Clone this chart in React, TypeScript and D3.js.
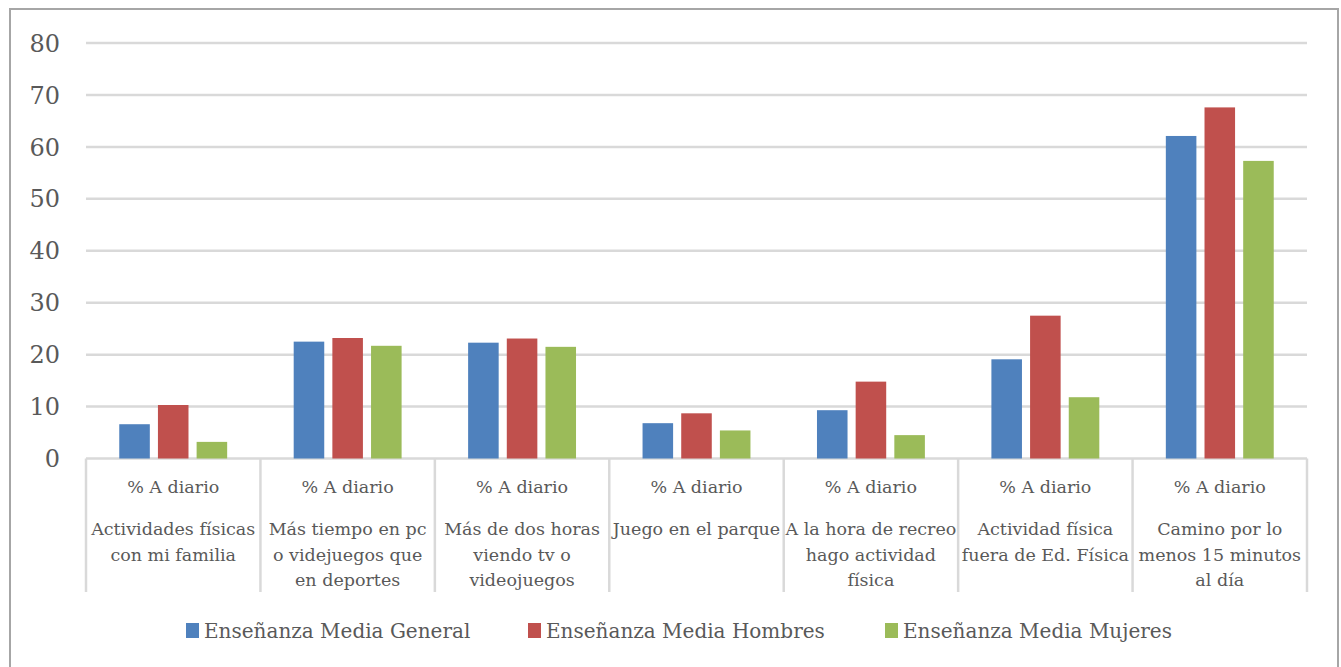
import { useEffect, useRef } from "react";
import * as d3 from "d3";

// Categorías (líneas de etiqueta del eje X)
const categories: string[][] = [
  ["Actividades físicas", "con mi familia"],
  ["Más tiempo en pc", "o videjuegos que", "en deportes"],
  ["Más de dos horas", "viendo tv o", "videojuegos"],
  ["Juego en el parque"],
  ["A la hora de recreo", "hago actividad", "física"],
  ["Actividad física", "fuera de Ed. Física"],
  ["Camino por lo", "menos 15 minutos", "al día"],
];
const categoryHeader = "% A diario";

const seriesNames = [
  "Enseñanza Media General",
  "Enseñanza Media Hombres",
  "Enseñanza Media Mujeres",
];
const seriesColors = ["#4f81bd", "#c0504d", "#9bbb59"];

const generalValues = [6.6, 22.5, 22.3, 6.8, 9.3, 19.1, 62.1];
const hombresValues = [10.3, 23.2, 23.1, 8.7, 14.8, 27.5, 67.6];
const mujeresValues = [3.2, 21.7, 21.5, 5.4, 4.5, 11.8, 57.3];

const yTicks = [0, 10, 20, 30, 40, 50, 60, 70, 80];

const W = 1341;
const H = 667;
const FONT = "'DejaVu Serif', serif";
const TEXT = "#595959";
const GRID = "#d9d9d9";

export default function App() {
  const svgRef = useRef<SVGSVGElement>(null);

  useEffect(() => {
    document.body.style.margin = "0";
    if (!svgRef.current) return;
    const svg = d3.select(svgRef.current);
    svg.selectAll("*").remove();

    const values = [generalValues, hombresValues, mujeresValues];
    const idx = categories.map((_, i) => String(i));

    const x = d3.scaleBand().domain(idx).range([86, 1307]).padding(0);
    const xs = d3
      .scaleBand()
      .domain(seriesNames)
      .range([0, x.bandwidth()])
      .paddingInner(0.21)
      .paddingOuter(0.86);
    const y = d3.scaleLinear().domain([0, 80]).range([458.5, 43]);

    // Marco exterior
    svg
      .append("rect")
      .attr("x", 10)
      .attr("y", 9)
      .attr("width", 1328)
      .attr("height", 720)
      .attr("fill", "white")
      .attr("stroke", "#a6a6a6")
      .attr("stroke-width", 2);

    // Grilla horizontal
    svg
      .append("g")
      .selectAll("line")
      .data(yTicks)
      .enter()
      .append("line")
      .attr("x1", 86)
      .attr("x2", 1307)
      .attr("y1", (d) => y(d))
      .attr("y2", (d) => y(d))
      .attr("stroke", GRID)
      .attr("stroke-width", 2.5);

    // Etiquetas eje Y
    svg
      .append("g")
      .selectAll("text")
      .data(yTicks)
      .enter()
      .append("text")
      .attr("x", 60)
      .attr("y", (d) => y(d))
      .attr("dy", "0.36em")
      .attr("text-anchor", "end")
      .style("font-family", FONT)
      .style("font-size", "24px")
      .style("fill", TEXT)
      .text((d) => d);

    // Separadores de categorías
    const bounds = idx.map((d) => x(d) || 0).concat([1307]);
    svg
      .append("g")
      .selectAll("line")
      .data(bounds)
      .enter()
      .append("line")
      .attr("x1", (d) => d)
      .attr("x2", (d) => d)
      .attr("y1", y(0))
      .attr("y2", 592)
      .attr("stroke", GRID)
      .attr("stroke-width", 2.5);

    // Barras
    seriesNames.forEach((s, si) => {
      svg
        .append("g")
        .selectAll("rect")
        .data(values[si])
        .enter()
        .append("rect")
        .attr("x", (_, i) => (x(String(i)) || 0) + (xs(s) || 0))
        .attr("y", (d) => y(d))
        .attr("width", xs.bandwidth())
        .attr("height", (d) => y(0) - y(d))
        .attr("fill", seriesColors[si]);
    });

    // Etiquetas eje X
    const labels = svg.append("g");
    categories.forEach((lines, i) => {
      const cx = (x(String(i)) || 0) + x.bandwidth() / 2;
      const t = labels
        .append("text")
        .attr("text-anchor", "middle")
        .style("font-family", FONT)
        .style("font-size", "17.5px")
        .style("fill", TEXT);
      t.append("tspan").attr("x", cx).attr("y", 493).text(categoryHeader);
      lines.forEach((l, li) => {
        t.append("tspan")
          .attr("x", cx)
          .attr("y", 535 + li * 25.5)
          .text(l);
      });
    });

    // Leyenda
    const legendX = [186, 528, 885];
    const legend = svg.append("g");
    seriesNames.forEach((s, si) => {
      legend
        .append("rect")
        .attr("x", legendX[si])
        .attr("y", 623)
        .attr("width", 13)
        .attr("height", 15)
        .attr("fill", seriesColors[si]);
      legend
        .append("text")
        .attr("x", legendX[si] + 18)
        .attr("y", 638)
        .style("font-family", FONT)
        .style("font-size", "20px")
        .style("fill", TEXT)
        .text(s);
    });
  }, []);

  return <svg ref={svgRef} width={W} height={H} style={{ display: "block" }} />;
}
